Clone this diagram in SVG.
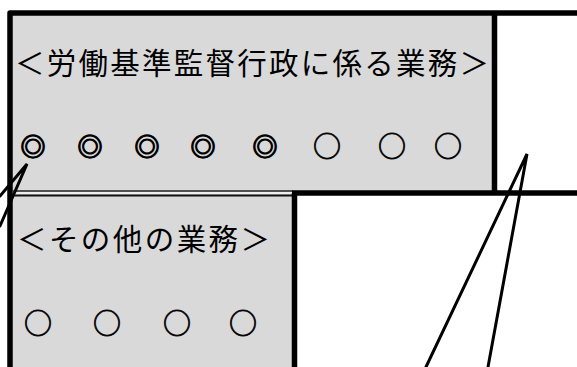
<svg xmlns="http://www.w3.org/2000/svg" width="577" height="367" viewBox="0 0 577 367">
<style>
.lbl{font-family:"Noto Sans CJK JP","Noto Sans CJK SC",sans-serif;fill:#000;}
.mk{font-family:"Noto Sans CJK JP","Noto Sans CJK SC",sans-serif;fill:#000;text-anchor:middle;dominant-baseline:central;}
.dbl{font-weight:bold;stroke:#000;stroke-width:1.2;}
.sgl{stroke:#000;stroke-width:0.7;}
.bd{fill:none;stroke:#000;stroke-width:5.5;stroke-linejoin:round;}
.cl{fill:none;stroke:#000;stroke-width:3;stroke-linecap:round;}
</style>
<rect width="577" height="367" fill="#fff"/>
<g id="node-labor">
<rect x="10" y="13" width="484.5" height="179" fill="#d9d9d9"/>
<path class="bd" d="M10,192 V13 H577 M494.5,13 V193"/>
<text class="lbl" x="15" y="74" font-size="29.5" textLength="474" lengthAdjust="spacing">＜労働基準監督行政に係る業務＞</text>
<text class="mk dbl" font-size="25" y="145"><tspan x="33">◎</tspan><tspan x="90">◎</tspan><tspan x="147">◎</tspan><tspan x="203">◎</tspan><tspan x="265">◎</tspan></text>
<text class="mk sgl" font-size="28" y="145"><tspan x="327">○</tspan><tspan x="392">○</tspan><tspan x="448">○</tspan></text>
</g>
<g id="node-other">
<rect x="10" y="192" width="284.5" height="175" fill="#d9d9d9"/>
<line x1="13" y1="191" x2="293" y2="191" stroke="#222" stroke-width="1.5"/>
<line x1="13" y1="193" x2="293" y2="193" stroke="#f4f4f4" stroke-width="1.5"/>
<line x1="13" y1="195.5" x2="293" y2="195.5" stroke="#111" stroke-width="2"/>
<path class="bd" d="M10,192 V367 M294.5,193 V367"/>
<text class="lbl" x="17" y="250" font-size="29.5" textLength="253" lengthAdjust="spacing">＜その他の業務＞</text>
<text class="mk sgl" font-size="28" y="322"><tspan x="38">○</tspan><tspan x="107">○</tspan><tspan x="177">○</tspan><tspan x="243">○</tspan></text>
</g>
<g id="node-right">
<path class="bd" d="M292,193 H577"/>
</g>
<g id="connectors">
<path class="cl" d="M0,196 L27,164 L0,226"/>
<path class="cl" d="M426,367 L527,154 L488,367"/>
</g>
</svg>
